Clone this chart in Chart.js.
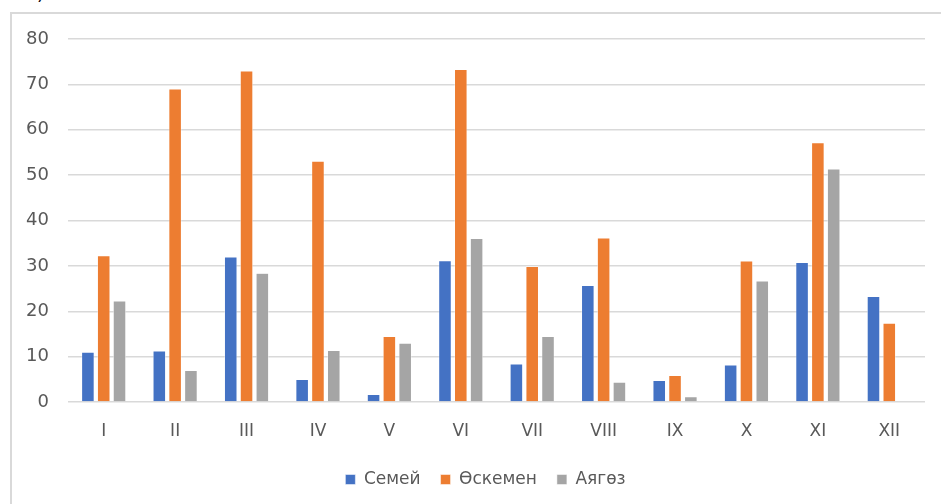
<!DOCTYPE html>
<html>
<head>
<meta charset="utf-8">
<script src="https://cdn.jsdelivr.net/npm/chart.js@4/dist/chart.umd.min.js"></script>
<style>
  html, body { margin: 0; padding: 0; background: #fff; width: 941px; height: 504px; overflow: hidden; }
  #frame { position: absolute; left: 10px; top: 12px; width: 1000px; height: 600px; border: 2px solid #d9d9d9; box-sizing: border-box; }
  #lbl { position: absolute; left: 26px; top: -15px; font: 18px "DejaVu Sans", sans-serif; color: #000; line-height: 18px; }
  #wrap { position: absolute; left: 0; top: 0; width: 941px; height: 504px; }
</style>
</head>
<body>
<div id="lbl">а)</div>
<div id="frame"></div>
<div id="wrap"><canvas id="c" width="941" height="504"></canvas></div>
<script>
const categories = ["I","II","III","IV","V","VI","VII","VIII","IX","X","XI","XII"];
const semey   = [11.0, 11.3, 32.0, 5.0, 1.7, 31.2, 8.4, 25.7, 4.8, 8.2, 30.8, 23.3];
const oskemen = [32.3, 69.0, 73.0, 53.1, 14.5, 73.3, 29.9, 36.2, 5.9, 31.1, 57.2, 17.4];
const ayagoz  = [22.3, 7.0, 28.4, 11.4, 13.0, 36.1, 14.5, 4.4, 1.2, 26.7, 51.4, null];
const seriesNames = ["Семей", "Өскемен", "Аягөз"];
const yMin = 0, yMax = 80, yStep = 10;

const FONT = "'DejaVu Sans', sans-serif";
const TXT = "#595959";

function ds(label, data, color) {
  return {
    label, data,
    backgroundColor: color,
    borderColor: "rgba(255,255,255,0.7)",
    borderWidth: 0.7,
    categoryPercentage: 0.664,
    barPercentage: 0.82
  };
}

const legendShift = {
  id: "legendShift",
  afterLayout(chart) {
    const lg = chart.legend;
    if (lg) { lg.left += 13; lg.right += 13; }
  }
};

new Chart(document.getElementById("c"), {
  type: "bar",
  data: {
    labels: categories,
    datasets: [
      ds(seriesNames[0], semey, "#4472C4"),
      ds(seriesNames[1], oskemen, "#ED7D31"),
      ds(seriesNames[2], ayagoz, "#A5A5A5")
    ]
  },
  plugins: [legendShift],
  options: {
    responsive: false,
    animation: false,
    events: [],
    layout: { padding: { left: 20, right: 16, top: 39, bottom: 6 } },
    scales: {
      x: {
        grid: { display: false, drawTicks: false },
        border: { display: false },
        ticks: { color: TXT, font: { family: FONT, size: 17 }, padding: 19, maxRotation: 0 },
        afterFit(s) { s.height = 49; }
      },
      y: {
        min: yMin, max: yMax,
        grid: { color: "#d9d9d9", lineWidth: 1.5, drawTicks: false },
        border: { display: false },
        ticks: { stepSize: yStep, color: TXT, font: { family: FONT, size: 18 }, padding: 19 },
        afterFit(s) { s.width = 48; }
      }
    },
    plugins: {
      legend: {
        position: "bottom",
        labels: { color: TXT, font: { family: FONT, size: 17 }, boxWidth: 10, boxHeight: 10, padding: 20 }
      },
      tooltip: { enabled: false },
      title: { display: false }
    }
  }
});
</script>
</body>
</html>
